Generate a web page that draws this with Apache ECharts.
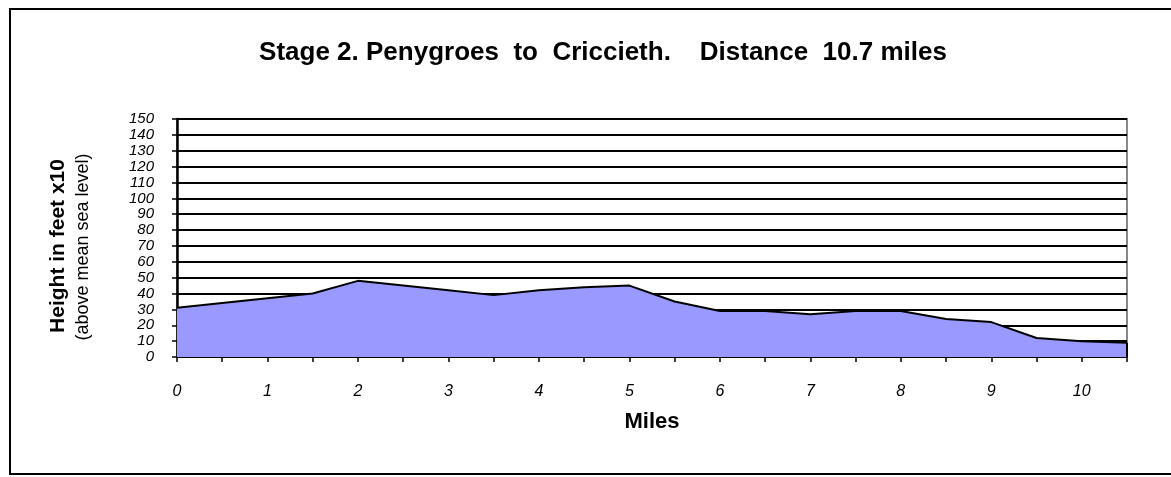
<!DOCTYPE html>
<html><head><meta charset="utf-8">
<script src="https://cdn.jsdelivr.net/npm/echarts@6/dist/echarts.min.js"></script>
<style>html,body{margin:0;padding:0;background:#fff}#c{width:1171px;height:477px}</style>
</head><body><div id="c"></div>
<script>
const titleText = 'Stage 2. Penygroes  to  Criccieth.    Distance  10.7 miles';
const miles = ['0','0.5','1','1.5','2','2.5','3','3.5','4','4.5','5','5.5','6','6.5','7','7.5','8','8.5','9','9.5','10','10.5'];
const heights = [31, 34, 37, 40, 48, 45, 42, 39, 42, 44, 45, 35, 29, 29, 27, 29, 29, 24, 22, 12, 10, 9];
const yTicks = [0,10,20,30,40,50,60,70,80,90,100,110,120,130,140,150];
const xName = 'Miles';
const yName = 'Height in feet x10';
const ySub = '(above mean sea level)';
const F = 'Liberation Sans, Arial, sans-serif';

const chart = echarts.init(document.getElementById('c'), null, {renderer:'canvas'});
chart.setOption({
  animation:false,
  backgroundColor:'#fff',
  title:{text:titleText,left:598,top:35,textAlign:'center',
    textStyle:{fontFamily:F,fontWeight:'bold',fontSize:26,color:'#000'}},
  grid:{left:177,right:44,top:119,bottom:120,show:true,borderColor:'#888',borderWidth:2,backgroundColor:'#fff'},
  xAxis:{type:'category',data:miles,boundaryGap:false,
    name:xName,nameLocation:'middle',nameGap:54,
    nameTextStyle:{fontFamily:F,fontWeight:'bold',fontSize:22,color:'#000'},
    axisLine:{lineStyle:{color:'#000',width:2}},
    axisTick:{show:true,interval:0,length:5,lineStyle:{color:'#000',width:1.5}},
    axisLabel:{interval:1,margin:27,fontFamily:F,fontStyle:'italic',fontSize:16,color:'#000'},
    splitLine:{show:false}},
  yAxis:{type:'value',min:yTicks[0],max:yTicks[yTicks.length-1],interval:10,
    axisLine:{show:true,lineStyle:{color:'#000',width:2.5}},
    axisTick:{show:true,length:5,lineStyle:{color:'#000',width:1.5}},
    axisLabel:{margin:23,fontFamily:F,fontStyle:'italic',fontSize:15,color:'#000',lineHeight:14},
    splitLine:{show:true,lineStyle:{color:'#000',width:1.8}}},
  series:[{type:'line',data:heights,symbol:'none',
    lineStyle:{color:'#000',width:2},
    areaStyle:{color:'#9999FF',opacity:1},
    markLine:{silent:true,symbol:'none',label:{show:false},
      lineStyle:{color:'#000',width:2,type:'solid'},
      data:[[{coord:[miles[miles.length-1],0]},{coord:[miles[miles.length-1],heights[heights.length-1]]}]]}
  }],
  graphic:[
    {type:'rect',shape:{x:10,y:9,width:1200,height:465},style:{fill:null,stroke:'#000',lineWidth:2},z:100},
    {type:'text',x:58,y:246,rotation:Math.PI/2,
      style:{text:yName,fontFamily:F,fontWeight:'bold',fontSize:21,fill:'#000',textAlign:'center',textVerticalAlign:'middle'}},
    {type:'text',x:83,y:247,rotation:Math.PI/2,
      style:{text:ySub,fontFamily:F,fontSize:18,fill:'#000',textAlign:'center',textVerticalAlign:'middle'}}
  ]
});
</script></body></html>
